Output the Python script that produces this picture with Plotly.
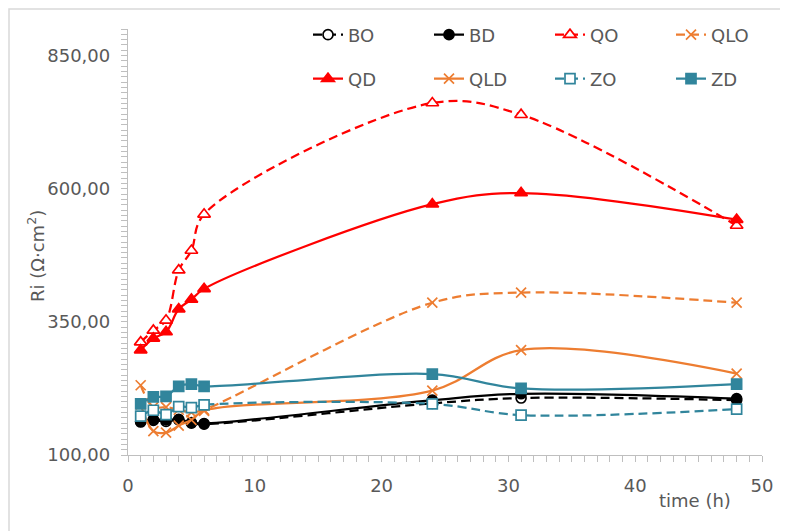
import plotly.graph_objects as go

time_h = [1, 2, 3, 4, 5, 6, 24, 31, 48]

BO = [162, 165, 163, 166, 160, 158, 197, 207, 203]
BD = [163, 167, 166, 167, 161, 159, 203, 215, 206]
QO = [312, 334, 353, 447, 484, 552, 761, 739, 531]
QLO = [231, 190, 190, 185, 180, 185, 386, 405, 386]
QD = [297, 319, 331, 374, 392, 412, 571, 592, 542]
QLD = [195, 145, 142, 155, 166, 183, 221, 297, 253]
ZO = [173, 184, 176, 191, 189, 194, 196, 175, 186]
ZD = [196, 209, 210, 229, 233, 229, 252, 225, 233]

y_ticks = [100, 350, 600, 850]

RED = "#FF0000"
ORANGE = "#ED7D31"
TEAL = "#31859C"
BLACK = "#000000"
GRAY_TXT = "#595959"
AXIS = "#BFBFBF"
FONT = "DejaVu Sans"
DASH = "9px,5px"

# (name, values, colour, dash, symbol, marker size, hollow?, legend)
series = [
    ("BO", BO, BLACK, DASH, "circle", 10, True, "legend"),
    ("BD", BD, BLACK, "solid", "circle", 10, False, "legend"),
    ("QO", QO, RED, DASH, "triangle-up", 11, True, "legend"),
    ("QLO", QLO, ORANGE, DASH, "x-thin-open", 10, False, "legend"),
    ("QD", QD, RED, "solid", "triangle-up", 11, False, "legend2"),
    ("QLD", QLD, ORANGE, "solid", "x-thin-open", 10, False, "legend2"),
    ("ZO", ZO, TEAL, DASH, "square", 10, True, "legend2"),
    ("ZD", ZD, TEAL, "solid", "square", 10, False, "legend2"),
]

fig = go.Figure()
for name, vals, col, dash, sym, size, hollow, leg in series:
    fig.add_trace(go.Scatter(
        x=time_h, y=vals, name=name, mode="lines+markers",
        line=dict(color=col, width=2.25, dash=dash, shape="spline", smoothing=1),
        marker=dict(symbol=sym, size=size, color="white" if hollow else col,
                    line=dict(color=col, width=1.7)),
        legend=leg,
    ))

# page has an 8px body margin: figure is 780x523, plot area at page px 128..762 x 29..455
PW, PH = 634, 426


def px_x(px):
    return (px - 128) / PW


def px_y(py):
    return (455 - py) / PH


legend_common = dict(
    orientation="h", xref="paper", yref="paper",
    xanchor="left", yanchor="middle",
    font=dict(family=FONT, size=18, color=GRAY_TXT),
    bgcolor="rgba(0,0,0,0)", entrywidth=76, entrywidthmode="pixels",
    itemwidth=30, tracegroupgap=0,
)

fig.update_layout(
    width=780, height=523,
    margin=dict(l=120, r=26, t=21, b=76, autoexpand=False),
    paper_bgcolor="white", plot_bgcolor="white",
    font=dict(family=FONT, size=18, color=GRAY_TXT),
    separators=",.",
    showlegend=True,
    legend=dict(legend_common, x=px_x(308), y=px_y(35)),
    legend2=dict(legend_common, x=px_x(308), y=px_y(79)),
    xaxis=dict(
        range=[0, 50], tickmode="linear", tick0=0, dtick=10,
        showgrid=False, zeroline=False, showline=True, linecolor=AXIS, linewidth=1.3,
        ticks="outside", ticklen=6, tickcolor=AXIS, tickwidth=1.3,
        minor=dict(dtick=1, ticks="outside", ticklen=6, tickcolor=AXIS, tickwidth=1, showgrid=False),
        tickfont=dict(family=FONT, size=18, color=GRAY_TXT),
        ticklabelstandoff=8,
    ),
    yaxis=dict(
        range=[100, 900], tickmode="array", tickvals=y_ticks, tickformat=".2f",
        showgrid=False, zeroline=False, showline=True, linecolor=AXIS, linewidth=1.3,
        ticks="outside", ticklen=6, tickcolor=AXIS, tickwidth=1.3,
        minor=dict(dtick=10, tick0=100, ticks="outside", ticklen=6, tickcolor=AXIS, tickwidth=1, showgrid=False),
        tickfont=dict(family=FONT, size=18, color=GRAY_TXT),
        ticklabelstandoff=7,
    ),
    xaxis2=dict(overlaying="x", matches="x", anchor="y", range=[0, 50], tickmode="linear",
                tick0=0, dtick=10, ticks="inside", ticklen=8, tickcolor=AXIS, tickwidth=1.3,
                showticklabels=False, showline=False, showgrid=False, zeroline=False),
    yaxis2=dict(overlaying="y", matches="y", anchor="x", side="left", range=[100, 900],
                tickmode="array", tickvals=y_ticks, ticks="inside", ticklen=8, tickcolor=AXIS,
                tickwidth=1.3, showticklabels=False, showline=False, showgrid=False, zeroline=False),
    hovermode=False,
)

# outer chart border (right/bottom edges fall outside the visible page)
fig.add_shape(type="rect", xref="paper", yref="paper",
              x0=px_x(9), x1=px_x(820), y0=px_y(560), y1=px_y(9),
              line=dict(color="#D9D9D9", width=1.5), layer="below")

fig.add_annotation(text="Ri (Ω·cm<sup>2</sup>)", textangle=-90, xref="paper", yref="paper",
                   x=px_x(36), y=px_y(256), xanchor="center", yanchor="middle", showarrow=False,
                   font=dict(family=FONT, size=18, color=GRAY_TXT))
fig.add_annotation(text="time (h)", xref="paper", yref="paper",
                   x=px_x(694.5), y=px_y(500), xanchor="center", yanchor="middle", showarrow=False,
                   font=dict(family=FONT, size=18, color=GRAY_TXT))

fig.write_html("out.html")
